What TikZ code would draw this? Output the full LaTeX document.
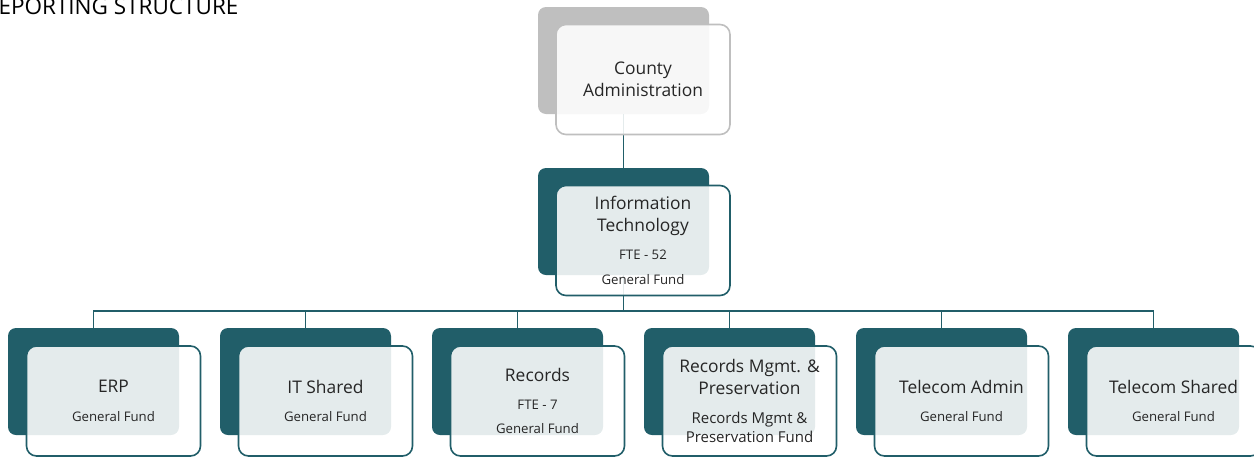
\documentclass[tikz,border=0pt]{standalone}
\usepackage{fontspec}
\setmainfont{Open Sans}
\definecolor{teal1}{HTML}{215E69}
\definecolor{gray1}{HTML}{BFBFBF}
\definecolor{txt}{HTML}{262626}
\newcommand{\bigt}{\fontsize{17.4}{21.5}\selectfont}
\newcommand{\smt}{\fontsize{13.2}{21}\selectfont}
\newcommand{\midt}{\fontsize{15}{21}\selectfont}
\tikzset{
  backbox/.style={minimum width=171pt, minimum height=107pt, rounded corners=8pt, fill=teal1, draw=none, inner sep=0pt},
  frontbox/.style={minimum width=174pt, minimum height=110pt, rounded corners=10pt, draw=teal1, line width=1.6pt, fill=white, fill opacity=0.88, text opacity=1, text=txt, align=center, inner sep=0pt, font=\bigt},
  graybox/.style={backbox, fill=gray1},
  grayfront/.style={frontbox, draw=gray1},
  conn/.style={draw=teal1, line width=1.5pt},
}
\begin{document}
\begin{tikzpicture}[x=1pt,y=-1pt]
\useasboundingbox (0,0) rectangle (1254,456);
\clip (0,0) rectangle (1254,456);
\node[anchor=base east, font=\fontsize{22.5}{26}\selectfont, text=black] (title) at (242,14) {REPORTING STRUCTURE};
% back boxes
\node[graybox] (cb) at (623.5,60.5) {};
\node[backbox] (ib) at (623.5,221.5) {};
\foreach \i/\x in {1/93.5,2/305.5,3/517.5,4/729.5,5/941.5,6/1153.5}{
  \node[backbox] (b\i) at (\x,381.5) {};
}
% connectors
\coordinate (bus) at (623.5,311);
\draw[conn] (cb.south) -- (ib.north);
\draw[conn] (ib.south) -- (bus);
\draw[conn] (b1.north) |- (bus) -| (b6.north);
\foreach \i in {2,3,4,5}{ \draw[conn] (b\i.north) -- (b\i.north |- bus); }
% front boxes
\node[grayfront] (cf) at (643,79.5) {County\\Administration};
\node[frontbox] (itf) at (643,240.5) {Information\\Technology\\[6.5pt]\smt FTE - 52\\[4pt]\smt General Fund};
\node[frontbox] (f1) at (113.5,401) {ERP\\[7pt]\smt General Fund};
\node[frontbox] (f2) at (325.5,401) {IT Shared\\[7pt]\smt General Fund};
\node[frontbox] (f3) at (537.5,401) {Records\\[6pt]\smt FTE - 7\\[3pt]\smt General Fund};
\node[frontbox] (f4) at (749.5,401) {Records Mgmt. \&\\Preservation\\[8pt]\midt Records Mgmt \&\\[-3pt]\midt Preservation Fund};
\node[frontbox] (f5) at (961.5,401) {Telecom Admin\\[7pt]\smt General Fund};
\node[frontbox] (f6) at (1173.5,401) {Telecom Shared\\[7pt]\smt General Fund};
\end{tikzpicture}
\end{document}
